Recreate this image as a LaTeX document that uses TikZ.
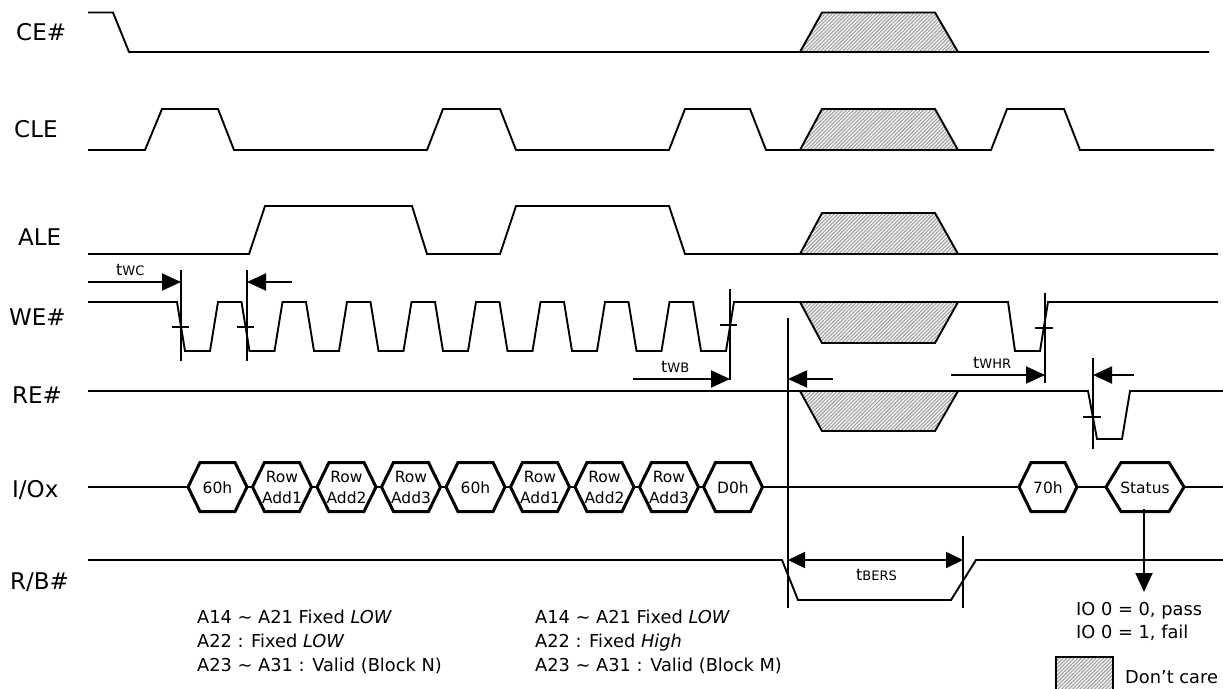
\documentclass[tikz,border=0pt]{standalone}
\usepackage{fontspec}
\setmainfont{DejaVu Sans}
\usetikzlibrary{arrows.meta,patterns.meta}
\newcommand\hexsig[6]{% name, cx, halfwidth, slant, text, dummy
  \draw[hexs] ({#2-#3},487) -- ({#2-#3+#4},462.5) -- ({#2+#3-#4},462.5) -- ({#2+#3},487) -- ({#2+#3-#4},511.5) -- ({#2-#3+#4},511.5) -- cycle;
  \node[hextext] (#1) at (#2,487.5) {#5};}
\begin{document}
\begin{tikzpicture}[x=1pt,y=-1pt,
  sig/.style={line width=1.9pt,line join=miter,miter limit=6},
  dc/.style={sig,preaction={fill=gray!12},pattern={Lines[angle=45,distance=2.6pt,line width=0.9pt]},pattern color=gray!80},
  hexs/.style={line width=3pt,fill=white,line join=miter,miter limit=6},
  hextext/.style={inner sep=0pt,align=center,font=\fontsize{15.5}{20.5}\selectfont},
  lab/.style={anchor=base west,inner sep=0pt,font=\fontsize{23}{26}\selectfont},
  note/.style={anchor=base west,inner sep=0pt,font=\fontsize{17.8}{20}\selectfont},
  tlab/.style={anchor=base west,inner sep=0pt,font=\fontsize{16}{18}\selectfont},
  vl/.style={line width=1.7pt},
  tick/.style={line width=1.7pt},
  dim/.style={line width=1.9pt,-{Triangle[length=19pt,width=17pt]}},
  ddim/.style={line width=1.7pt,{Triangle[length=17pt,width=16pt]}-{Triangle[length=17pt,width=16pt]}}]
\clip (0,0) rectangle (1223,688);
\fill[white] (0,0) rectangle (1223,688);
% signal names
\node[lab] (lce) at (16,40.5) {CE\#};
\node[lab] (lcle) at (14,137.5) {CLE};
\node[lab] (lale) at (18,245.5) {ALE};
\node[lab] (lwe) at (9,325.5) {WE\#};
\node[lab] (lre) at (12,403.5) {RE\#};
\node[lab] (lio) at (12,497.5) {I/Ox};
\node[lab] (lrb) at (10,589.5) {R/B\#};
% CE#
\draw[sig] (88,12.5) -- (113,12.5) -- (129,52) -- (1209,52);
\draw[dc] (800,52) -- (822,12.5) -- (935,12.5) -- (958,52) -- cycle;
% CLE
\draw[sig] (88,150) -- (145,150) -- (162,109) -- (218,109) -- (234,150) -- (427,150) -- (443,109) -- (500,109) -- (516,150) -- (669,150) -- (685,109) -- (750,109) -- (766,150) -- (991,150) -- (1007,109) -- (1064,109) -- (1080,150) -- (1214,150);
\draw[dc] (800,150) -- (822,109) -- (935,109) -- (958,150) -- cycle;
% ALE
\draw[sig] (88,254) -- (249,254) -- (265,206) -- (412,206) -- (427,254) -- (500,254) -- (516,206) -- (669,206) -- (685,254) -- (1218,254);
\draw[dc] (800,254) -- (822,213) -- (935,213) -- (958,254) -- cycle;
% WE#
\draw[sig] (88,302) foreach \k in {0,...,8} { -- ({177+64.5*\k},302) -- ({185+64.5*\k},351) -- ({210+64.5*\k},351) -- ({218+64.5*\k},302) } -- (1008,302) -- (1015,351) -- (1040,351) -- (1048,302) -- (1218,302);
\draw[dc] (800,302) -- (822,343) -- (935,343) -- (958,302) -- cycle;
% RE#
\draw[sig] (88,391) -- (1088,391) -- (1097,439) -- (1122,439) -- (1130,391) -- (1223,391);
\draw[dc] (800,391) -- (822,431) -- (935,431) -- (958,391) -- cycle;
% I/Ox
\draw[sig] (88,487) -- (1223,487);
\hexsig{h1}{217.5}{29.5}{12}{60h}{}
\hexsig{h2}{282}{29.5}{12}{Row\\Add1}{}
\hexsig{h3}{346.5}{29.5}{12}{Row\\Add2}{}
\hexsig{h4}{411}{29.5}{12}{Row\\Add3}{}
\hexsig{h5}{475.5}{29.5}{12}{60h}{}
\hexsig{h6}{540}{29.5}{12}{Row\\Add1}{}
\hexsig{h7}{604.5}{29.5}{12}{Row\\Add2}{}
\hexsig{h8}{669}{29.5}{12}{Row\\Add3}{}
\hexsig{h9}{733}{29.5}{12}{D0h}{}
\hexsig{h10}{1048}{29}{12}{70h}{}
\hexsig{h11}{1145}{39}{15}{Status}{}
% R/B#
\draw[sig] (88,560) -- (782,560) -- (798,600) -- (951,600) -- (976,560) -- (1223,560);
% timing: tWC
\coordinate (a1t) at (181,270); \coordinate (a1b) at (181,361);
\coordinate (a2t) at (247,270); \coordinate (a2b) at (247,361);
\draw[vl] (a1t) -- (a1b);
\draw[vl] (a2t) -- (a2b);
\draw[tick] (172,327) -- (189,327);
\draw[tick] (237,327) -- (254,327);
\coordinate (twc0) at (88,282); \coordinate (twc1) at (181,282);
\coordinate (twc2) at (292,282); \coordinate (twc3) at (247,282);
\draw[dim] (twc0) -- (twc1);
\draw[dim] (twc2) -- (twc3);
\node[tlab] (ltwc) at (116,275) {t{\fontsize{13}{14}\selectfont WC}};
% tWB
\coordinate (b1t) at (730,289); \coordinate (b1b) at (730,380);
\draw[vl] (b1t) -- (b1b);
\draw[tick] (720,325) -- (737,325);
\coordinate (twb0) at (633,379); \coordinate (twb1) at (730,379);
\draw[dim] (twb0) -- (twb1);
\node[tlab] (ltwb) at (661,372) {t{\fontsize{13}{14}\selectfont WB}};
% long vertical and left arrow
\coordinate (c1t) at (788,318); \coordinate (c1b) at (788,608);
\draw[vl] (c1t) -- (c1b);
\coordinate (wb2) at (833,379); \coordinate (wb3) at (788,379);
\draw[dim] (wb2) -- (wb3);
% tWHR
\coordinate (d1t) at (1045,293); \coordinate (d1b) at (1045,383);
\draw[vl] (d1t) -- (d1b);
\draw[tick] (1035,328) -- (1053,328);
\coordinate (whr0) at (951,375); \coordinate (whr1) at (1045,375);
\draw[dim] (whr0) -- (whr1);
\node[tlab] (ltwhr) at (973,368) {t{\fontsize{13}{14}\selectfont WHR}};
% RE marker
\coordinate (e1t) at (1093,358); \coordinate (e1b) at (1093,449);
\draw[vl] (e1t) -- (e1b);
\draw[tick] (1083,417) -- (1101,417);
\coordinate (re0) at (1134,375); \coordinate (re1) at (1093,375);
\draw[dim] (re0) -- (re1);
% tBERS
\coordinate (f1t) at (963,536); \coordinate (f1b) at (963,608);
\draw[vl] (f1t) -- (f1b);
\coordinate (bers0) at (788,560); \coordinate (bers1) at (963,560);
\draw[ddim] (bers0) -- (bers1);
\node[tlab] (ltbers) at (856,580) {t{\fontsize{13}{14}\selectfont BERS}};
% status arrow
\coordinate (stb) at (1144,509); \coordinate (stt) at (1144,592);
\draw[dim] (stb) -- (stt);
\node[note] (p1) at (1076,615) {IO 0 = 0, pass};
\node[note] (p2) at (1076,638) {IO 0 = 1, fail};
% notes
\node[note] (n1) at (197,623) {A14 \textasciitilde{} A21 Fixed \textit{LOW}};
\node[note] (n2) at (197,647) {A22 : Fixed \textit{LOW}};
\node[note] (n3) at (197,671) {A23 \textasciitilde{} A31 : Valid (Block N)};
\node[note] (m1) at (535,623) {A14 \textasciitilde{} A21 Fixed \textit{LOW}};
\node[note] (m2) at (535,647) {A22 : Fixed \textit{High}};
\node[note] (m3) at (535,671) {A23 \textasciitilde{} A31 : Valid (Block M)};
% legend
\draw[dc] (1056,657) rectangle (1113,700);
\node[note] (dcare) at (1125,683) {Don’t care};
\end{tikzpicture}
\end{document}
